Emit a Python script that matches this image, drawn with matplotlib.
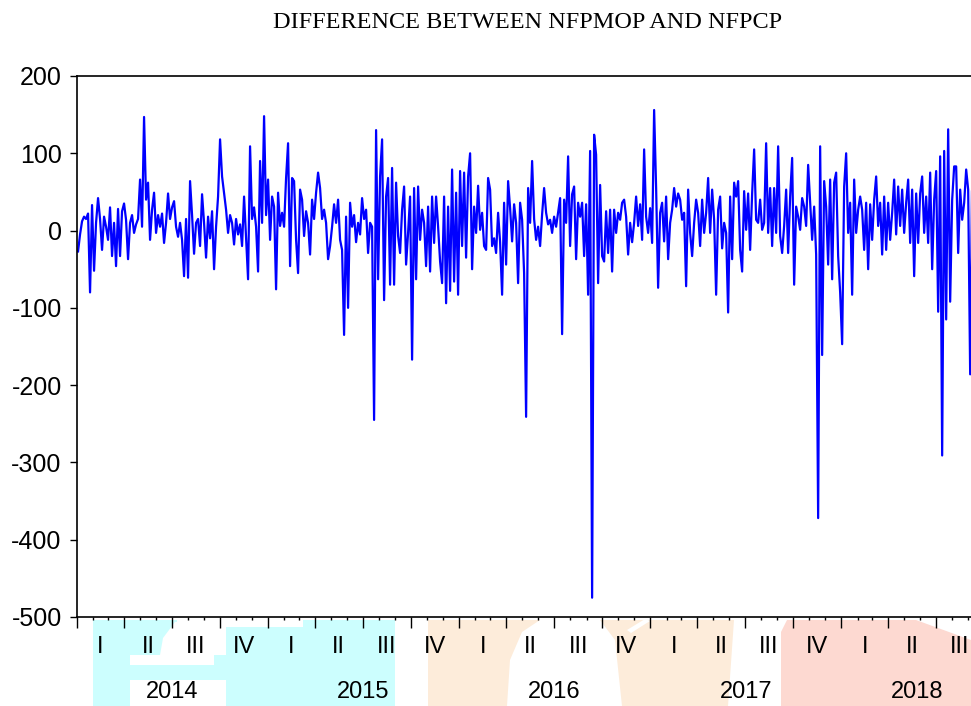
import matplotlib
matplotlib.use("Agg")
import matplotlib.pyplot as plt
import matplotlib.dates as mdates
from matplotlib.patches import Polygon
from matplotlib.ticker import NullFormatter
import pandas as pd

diff = [
    -27, -5, 12, 18, 15, 22, -80, 33, -52, 10, 42, 15,
    -25, 18, 5, -12, 30, -33, 10, -46, 28, -33, 25, 35,
    14, -37, 10, 20, -3, 8, 15, 66, 5, 147, 40, 62,
    -12, 27, 49, -3, 20, 5, 22, -16, 10, 48, 15, 30,
    38, 5, -8, 10, -12, -59, 15, -61, 64, 20, -30, 10,
    15, -20, 47, 10, -35, 18, -10, 25, -50, 5, 44, 118,
    70, 49, 27, -3, 20, 10, -18, 15, -5, 8, -20, 44,
    -10, -63, 109, 15, 30, 5, -53, 90, 10, 148, 20, 66,
    -12, 44, 31, -76, 49, 6, 23, 5, 68, 113, -46, 68,
    64, -12, -55, 53, 40, -7, 25, 10, -31, 40, 15, 49,
    75, 55, 15, 27, 10, -37, -20, 5, 34, 10, 40, -12,
    -25, -135, 18, -100, 36, 5, 20, -15, 10, -5, 42, 15,
    27, -29, 10, 5, -245, 130, -63, 70, 118, -90, 44, 68,
    -70, 81, -70, 62, -7, -29, 27, 57, -44, -3, 44, -167,
    55, -63, 57, -12, 27, 10, -46, 31, -53, 44, -16, 44,
    5, -40, -68, 44, -94, 31, -78, 79, -66, 49, -83, 77,
    -20, 75, -35, 70, 100, -50, 31, -3, 58, 1, 23, -20,
    -25, 68, 53, -20, -10, -29, 23, -15, -83, 36, -44, 64,
    29, -14, 34, 10, -68, 36, 14, -55, -241, 55, 10, 90,
    15, -12, 5, -20, 21, 55, 23, 8, 14, -3, 18, 5,
    23, 42, -134, 40, 10, 96, -20, 47, 57, -37, 36, 18,
    36, -33, 34, -83, 103, -475, 124, 98, -68, 59, -33, -40,
    25, -29, 27, -53, 27, -3, 23, 14, 36, 40, 18, -31,
    10, -15, 10, 44, 6, 34, -12, 105, 18, -3, 29, -16,
    156, 55, -74, 23, 36, -14, 44, -37, 10, 27, 55, 31,
    48, 40, 14, 23, -72, 53, -3, -33, 10, 40, 23, -20,
    40, -3, 23, 68, -3, 53, 14, -83, 27, 44, -23, 10,
    -3, -106, 44, -37, 62, 44, 64, -25, -53, 51, 1, 48,
    -25, 48, 105, 14, 10, 40, 1, 10, 113, -3, 55, -20,
    55, -3, 109, -7, -29, 6, 53, -29, 44, 94, -70, 31,
    18, 1, 42, 31, 6, 85, 36, -12, 31, -31, -372, 109,
    -161, 64, 31, -44, 66, -63, 62, 75, -33, -80, -147, 57,
    100, -3, 36, -83, 66, -3, 27, 44, 27, -25, 36, -50,
    34, -12, 40, 70, 6, 36, -31, 44, -25, 36, -12, 23,
    66, -5, 57, 6, 53, -3, 36, 66, -16, 53, -59, 48,
    -16, 48, 70, -3, 44, -16, 75, -50, 40, 77, -105, 96,
    -291, 103, -115, 131, -92, 40, 83, 83, -29, 53, 14, 36,
    79, 53, -186, 72, 25,
]
first_day = "2014-01-03"
last_day = "2018-09-12"
x_start = "2014-01-01"
x_end = "2018-10-18"
quarter_names = ["I", "II", "III", "IV"]
years = [2014, 2015, 2016, 2017, 2018]
y_ticks = [-500, -400, -300, -200, -100, 0, 100, 200]

plt.rcParams["font.family"] = ["Liberation Sans", "DejaVu Sans"]
plt.rcParams["axes.unicode_minus"] = False

W, H = 971, 706
fig = plt.figure(figsize=(W / 100, H / 100), dpi=100)


def px(pts):
    return [(x / W, 1 - y / H) for x, y in pts]


def blob(pts, color):
    fig.patches.append(Polygon(px(pts), closed=True, transform=fig.transFigure,
                               facecolor=color, edgecolor="none", zorder=-10))


# faint watermark behind the date labels
cyan, peach, pink = "#ccfefe", "#fdecda", "#fdd9d1"
blob([(93, 620), (395, 620), (395, 706), (93, 706)], cyan)
blob([(177, 618), (303, 618), (303, 627), (177, 627)], "white")
blob([(175, 622), (226, 622), (226, 655), (160, 655), (163, 638)], "white")
blob([(130, 655), (214, 655), (214, 665), (130, 665)], "white")
blob([(130, 680), (226, 680), (226, 706), (130, 706)], "white")
blob([(428, 620), (734, 620), (728, 706), (428, 706)], peach)
blob([(507, 706), (510, 660), (522, 632), (540, 620), (600, 620), (615, 640), (622, 706)], "white")
blob([(627, 630), (645, 619), (650, 621), (631, 633)], "white")
blob([(787, 620), (916, 620), (971, 640), (971, 706), (781, 706), (781, 632)], pink)

ax = fig.add_axes([77 / W, (H - 617) / H, (993 - 77) / W, (617 - 76) / H])

dates = pd.date_range(first_day, last_day, periods=len(diff))
ax.plot(dates, diff, color="#0000ff", lw=1.6)

xmin, xmax = pd.Timestamp(x_start), pd.Timestamp(x_end)
ax.set_xlim(xmin, xmax)
ax.set_ylim(-500, 200)
ax.set_yticks(y_ticks)
ax.tick_params(axis="y", length=5, width=1, labelsize=18, pad=6)

ax.xaxis.set_major_locator(mdates.MonthLocator(bymonth=[1, 4, 7, 10]))
ax.xaxis.set_minor_locator(mdates.MonthLocator())
ax.xaxis.set_major_formatter(NullFormatter())
ax.tick_params(axis="x", which="major", length=8, width=1)
ax.tick_params(axis="x", which="minor", length=2.5, width=1)
for s in ax.spines.values():
    s.set_linewidth(1.2)

tr = ax.get_xaxis_transform()
for yr in years:
    for q in range(4):
        q0 = pd.Timestamp(yr, 3 * q + 1, 1)
        q1 = q0 + pd.DateOffset(months=3)
        mid = q0 + (q1 - q0) / 2
        if mid < xmax:
            ax.text(mid, -0.055, quarter_names[q], transform=tr, ha="center",
                    va="center", fontsize=17, clip_on=False)
    lo = max(pd.Timestamp(yr, 1, 1), xmin)
    hi = min(pd.Timestamp(yr + 1, 1, 1), xmax)
    ax.text(lo + (hi - lo) / 2, -0.139, str(yr), transform=tr, ha="center",
            va="center", fontsize=17, clip_on=False)

fig.text(528 / W, 1 - 22 / H, "DIFFERENCE BETWEEN NFPMOP AND NFPCP",
         family=["Liberation Serif", "DejaVu Serif"], fontsize=17.5,
         ha="center", va="center")

fig.savefig("out.png", dpi=100)
